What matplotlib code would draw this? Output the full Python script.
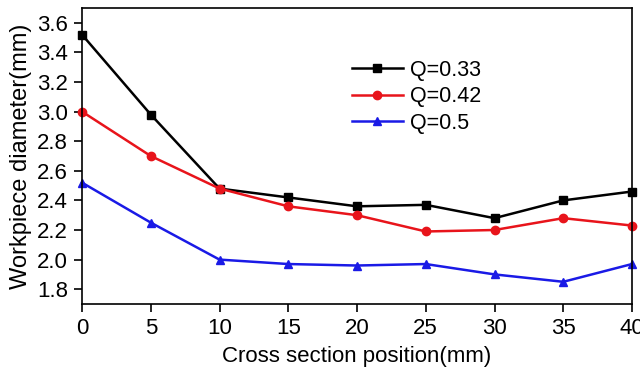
import matplotlib
matplotlib.use('Agg')
import matplotlib.pyplot as plt

plt.rcParams['font.family'] = ['Liberation Sans', 'DejaVu Sans']

position = [0, 5, 10, 15, 20, 25, 30, 35, 40]
q033 = [3.52, 2.98, 2.48, 2.42, 2.36, 2.37, 2.28, 2.40, 2.46]
q042 = [3.00, 2.70, 2.48, 2.36, 2.30, 2.19, 2.20, 2.28, 2.23]
q050 = [2.52, 2.25, 2.00, 1.97, 1.96, 1.97, 1.90, 1.85, 1.97]
labels = ['Q=0.33', 'Q=0.42', 'Q=0.5']

fig = plt.figure(figsize=(6.4, 3.75), dpi=100)
ax = fig.add_axes([82/640, 1 - 304/375, 550/640, 296/375])

ax.plot(position, q033, '-s', color='black', lw=1.8, ms=6, label=labels[0], clip_on=False)
ax.plot(position, q042, '-o', color='#e8141b', lw=1.8, ms=6, label=labels[1], clip_on=False)
ax.plot(position, q050, '-^', color='#1a1ae6', lw=1.8, ms=6, label=labels[2], clip_on=False)

ax.set_xlim(0, 40)
ax.set_ylim(1.7, 3.7)
ax.set_xticks(range(0, 41, 5))
ax.set_yticks([1.8, 2.0, 2.2, 2.4, 2.6, 2.8, 3.0, 3.2, 3.4, 3.6])
ax.set_yticklabels(['1.8', '2.0', '2.2', '2.4', '2.6', '2.8', '3.0', '3.2', '3.4', '3.6'])
ax.tick_params(direction='out', length=6, width=1.2, labelsize=16, pad=4)
for s in ax.spines.values():
    s.set_linewidth(1.2)

ax.set_xlabel('Cross section position(mm)', fontsize=16, labelpad=5)
ax.set_ylabel('Workpiece diameter(mm)', fontsize=17, labelpad=4)

ax.legend(loc='upper left', bbox_to_anchor=(0.455, 0.89), frameon=False,
          fontsize=15.5, handlelength=2.4, handletextpad=0.3, labelspacing=0.25)

fig.savefig('out.png', dpi=100)
